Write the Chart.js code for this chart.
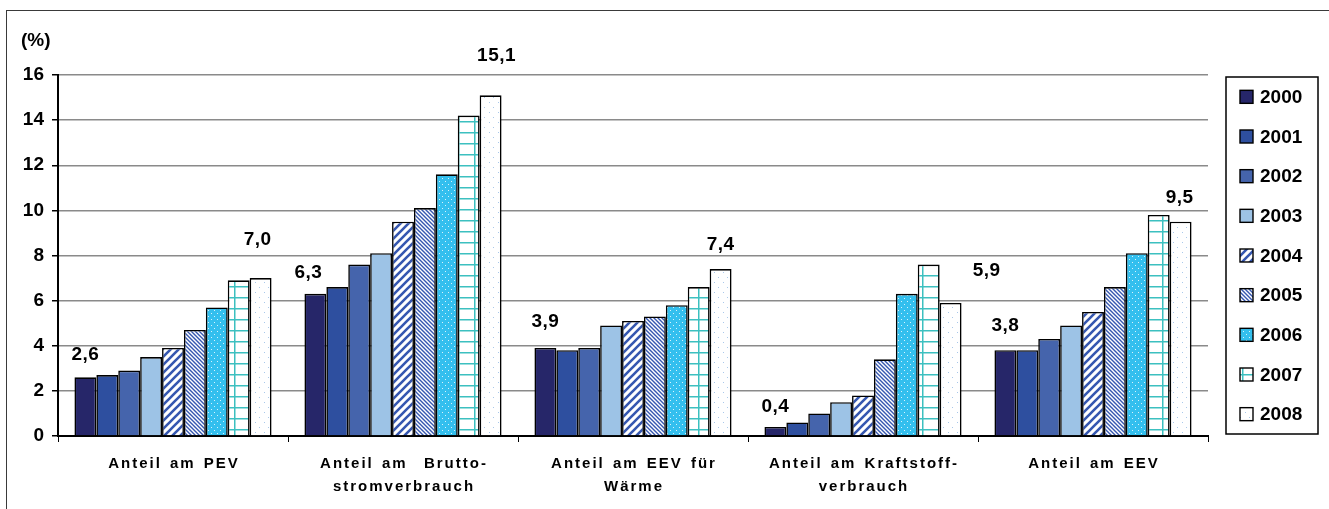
<!DOCTYPE html>
<html>
<head>
<meta charset="utf-8">
<script src="https://cdn.jsdelivr.net/npm/chart.js@4.4.1/dist/chart.umd.min.js"></script>
<style>
  html, body { margin: 0; padding: 0; background: #fff; }
  #wrap { position: relative; width: 1329px; height: 509px; }
</style>
</head>
<body>
<div id="wrap"><canvas id="chart" width="1329" height="509"></canvas></div>
<script>
// categories (x axis), one array per line of the label
const categories = [
  ['Anteil am PEV'],
  ['Anteil am  Brutto-', 'stromverbrauch'],
  ['Anteil am EEV für', 'Wärme'],
  ['Anteil am Kraftstoff-', 'verbrauch'],
  ['Anteil am EEV']
];
const years = ['2000', '2001', '2002', '2003', '2004', '2005', '2006', '2007', '2008'];

// values in %
const v2000 = [2.6, 6.3, 3.9, 0.4, 3.8];
const v2001 = [2.7, 6.6, 3.8, 0.6, 3.8];
const v2002 = [2.9, 7.6, 3.9, 1.0, 4.3];
const v2003 = [3.5, 8.1, 4.9, 1.5, 4.9];
const v2004 = [3.9, 9.5, 5.1, 1.8, 5.5];
const v2005 = [4.7, 10.1, 5.3, 3.4, 6.6];
const v2006 = [5.7, 11.6, 5.8, 6.3, 8.1];
const v2007 = [6.9, 14.2, 6.6, 7.6, 9.8];
const v2008 = [7.0, 15.1, 7.4, 5.9, 9.5];
const yTicks = [0, 2, 4, 6, 8, 10, 12, 14, 16];

const FONT = '"Liberation Sans", Arial, sans-serif';

let canvas = document.getElementById('chart');
let ctx = canvas.getContext('2d');

// fill patterns like the excel ones
function makePattern(w, h, paint) {
  let c = document.createElement('canvas');
  c.width = w; c.height = h;
  let p = c.getContext('2d');
  paint(p, w, h);
  return ctx.createPattern(c, 'repeat');
}

const fills = [
  '#262669',
  '#2e4f9f',
  '#4564ac',
  '#9dc3e6',
  // breite diagonale streifen /
  makePattern(8, 8, (p, w, h) => {
    p.fillStyle = '#fff'; p.fillRect(0, 0, w, h);
    p.strokeStyle = '#3557b0'; p.lineWidth = 2.6;
    p.beginPath();
    p.moveTo(-2, h + 2); p.lineTo(w + 2, -2);
    p.moveTo(-2, 2); p.lineTo(2, -2);
    p.moveTo(w - 2, h + 2); p.lineTo(w + 2, h - 2);
    p.stroke();
  }),
  // feine diagonale streifen \
  makePattern(4, 4, (p, w, h) => {
    p.fillStyle = '#fff'; p.fillRect(0, 0, w, h);
    p.strokeStyle = '#3557b0'; p.lineWidth = 1.4;
    p.beginPath();
    p.moveTo(-1, -1); p.lineTo(w + 1, h + 1);
    p.moveTo(w - 1, -1); p.lineTo(w + 1, 1);
    p.moveTo(-1, h - 1); p.lineTo(1, h + 1);
    p.stroke();
  }),
  // cyan mit punkten
  makePattern(6, 6, (p, w, h) => {
    p.fillStyle = '#33bfee'; p.fillRect(0, 0, w, h);
    p.fillStyle = '#d8f3fc';
    p.fillRect(1, 1, 1, 1);
    p.fillRect(4, 4, 1, 1);
  }),
  // gitter
  makePattern(16, 11, (p, w, h) => {
    p.fillStyle = '#fff'; p.fillRect(0, 0, w, h);
    p.fillStyle = '#3cc0c0';
    p.fillRect(0, 0, w, 1.5);
    p.fillRect(10, 0, 1.5, h);
  }),
  // weiss mit hellen punkten
  makePattern(9, 10, (p, w, h) => {
    p.fillStyle = '#fff'; p.fillRect(0, 0, w, h);
    p.fillStyle = '#a9c8ea';
    p.fillRect(3, 2, 1, 1);
    p.fillRect(7, 7, 1, 1);
  })
];

const series = [v2000, v2001, v2002, v2003, v2004, v2005, v2006, v2007, v2008];

// label offsets (px) for the first and last year, as placed in the original
const firstOffsets = { dx: [0, -7, 0, 0, 0], dy: [-23, -21, -26, -20, -24] };
const lastOffsets = { dx: [-3, 6, 0, 36, -1], dy: [-38, -40, -24, -32, -24] };

const decoPlugin = {
  id: 'deco',
  beforeDraw(chart) {
    const c = chart.ctx;
    c.save();
    c.fillStyle = '#fff';
    c.fillRect(0, 0, chart.width, chart.height);
    c.strokeStyle = '#3a3a3a';
    c.lineWidth = 1;
    c.strokeRect(6.5, 10.5, chart.width + 10, chart.height + 10);
    c.restore();
  },
  afterDraw(chart) {
    const c = chart.ctx;
    const area = chart.chartArea;
    const xs = chart.scales.x;
    c.save();
    c.fillStyle = '#000';

    // y title
    c.font = 'bold 19px ' + FONT;
    c.textAlign = 'left';
    c.textBaseline = 'middle';
    c.fillText('(%)', 21, 41);

    // category labels, spaced out
    c.font = 'bold 15px ' + FONT;
    c.letterSpacing = '2px';
    c.wordSpacing = '2px';
    c.textAlign = 'center';
    categories.forEach((lines, i) => {
      const x = xs.getPixelForTick(i);
      lines.forEach((t, j) => c.fillText(t, x + 1, xs.top + 28 + j * 23));
    });

    // value labels on 2000 and 2008 bars
    c.font = 'bold 19px ' + FONT;
    c.letterSpacing = '0.5px';
    c.wordSpacing = '0px';
    [[0, firstOffsets], [8, lastOffsets]].forEach(([ds, off]) => {
      const meta = chart.getDatasetMeta(ds);
      meta.data.forEach((bar, i) => {
        const txt = series[ds][i].toFixed(1).replace('.', ',');
        c.fillText(txt, bar.x + off.dx[i], bar.y + off.dy[i]);
      });
    });

    // legend box
    c.letterSpacing = '0px';
    const bx = area.right + 18, by = area.top + 2;
    const bw = 92, bh = area.bottom - area.top - 4;
    c.strokeStyle = '#000';
    c.lineWidth = 1.5;
    c.strokeRect(bx, by, bw, bh);
    const step = bh / years.length;
    c.font = 'bold 19px ' + FONT;
    c.textAlign = 'left';
    years.forEach((y, i) => {
      const cy = by + step * (i + 0.5);
      c.fillStyle = fills[i];
      c.fillRect(bx + 14, cy - 6.5, 13, 13);
      c.lineWidth = 1.4;
      c.strokeRect(bx + 14, cy - 6.5, 13, 13);
      c.fillStyle = '#000';
      c.fillText(y, bx + 34, cy + 1);
    });
    c.restore();
  }
};

let myChart = new Chart(ctx, {
  type: 'bar',
  data: {
    labels: categories,
    datasets: years.map((y, i) => ({
      label: y,
      data: series[i],
      backgroundColor: fills[i],
      borderColor: '#000',
      borderWidth: 1.6,
      categoryPercentage: 0.857,
      barPercentage: 1.0
    }))
  },
  options: {
    responsive: false,
    animation: false,
    layout: { padding: { top: 75, right: 121, bottom: 0, left: 0 } },
    plugins: {
      legend: { display: false },
      tooltip: { enabled: false }
    },
    scales: {
      x: {
        grid: { display: true, drawOnChartArea: false, drawTicks: true, tickLength: 6, tickColor: '#000', offset: true },
        border: { color: '#000', width: 2 },
        ticks: { display: false },
        afterFit(scale) { scale.height = 73; }
      },
      y: {
        min: 0,
        max: 16,
        afterBuildTicks(scale) { scale.ticks = yTicks.map(v => ({ value: v })); },
        ticks: { color: '#000', padding: 8, font: { family: FONT, size: 19, weight: 'bold' } },
        grid: { color: '#8a8a8a', lineWidth: 1.5, tickLength: 6, tickColor: '#000' },
        border: { color: '#000', width: 2 },
        afterFit(scale) { scale.width = 58; }
      }
    }
  },
  plugins: [decoPlugin]
});
</script>
</body>
</html>
